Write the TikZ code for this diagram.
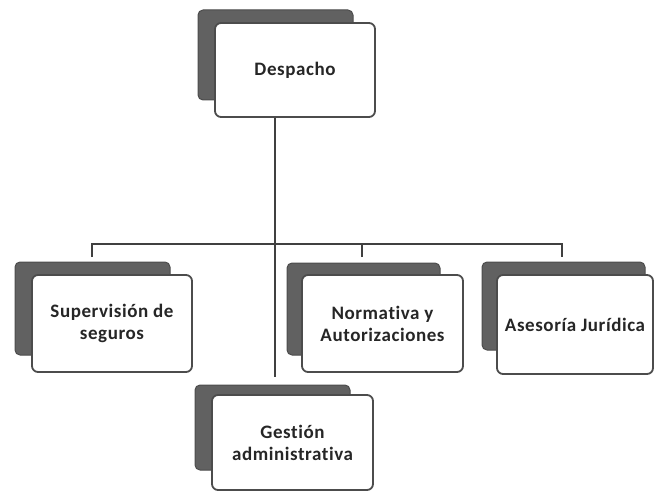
\documentclass[tikz,border=0pt]{standalone}
\usepackage{fontspec}
\setmainfont{Carlito}[LetterSpace=3,Ligatures=NoCommon]
\begin{document}
\begin{tikzpicture}[x=1pt,y=-1pt,
  backbox/.style={fill=black!62,draw=black!70,line width=1pt,rounded corners=5pt},
  frontbox/.style={draw=black!70,line width=1.8pt,fill=white,rounded corners=6pt,
     align=center,font=\bfseries\fontsize{19}{22}\selectfont,text=black!85,inner sep=0pt},
  conn/.style={draw=black!75,line width=2.6pt}]
\useasboundingbox (0,0) rectangle (655,492);
% Despacho
\fill[backbox] (198,10) rectangle (353,100);
\node[frontbox,minimum width=160pt,minimum height=94pt] (D) at (295,70) {Despacho};
% Supervision
\fill[backbox] (15,262) rectangle (170,355);
\node[frontbox,minimum width=160pt,minimum height=97pt] (S) at (112,323.5) {Supervisión de\\seguros};
% Normativa
\fill[backbox] (287,263) rectangle (440,355);
\node[frontbox,minimum width=161pt,minimum height=97pt] (N) at (382.5,323.5) {Normativa y\\Autorizaciones};
% Asesoria
\fill[backbox] (482,262) rectangle (645,350);
\node[frontbox,minimum width=156pt,minimum height=99pt] (A) at (575,324.5) {Asesoría Jurídica};
% Gestion
\fill[backbox] (195,385) rectangle (350,470);
\node[frontbox,minimum width=161pt,minimum height=95pt] (G) at (292.5,442.5) {Gestión\\administrativa};
% connectors
\coordinate (tkend) at (275,377);
\coordinate (bar) at (0,244);
\coordinate (tS) at (92,257);
\coordinate (tN) at (362,257);
\coordinate (tA) at (562,257);
\draw[conn] (D.south -| tkend) -- (tkend);
\draw[conn] (tS) -- (tS |- bar) -- (tA |- bar) -- (tA);
\draw[conn] (tN) -- (tN |- bar);
\end{tikzpicture}
\end{document}
